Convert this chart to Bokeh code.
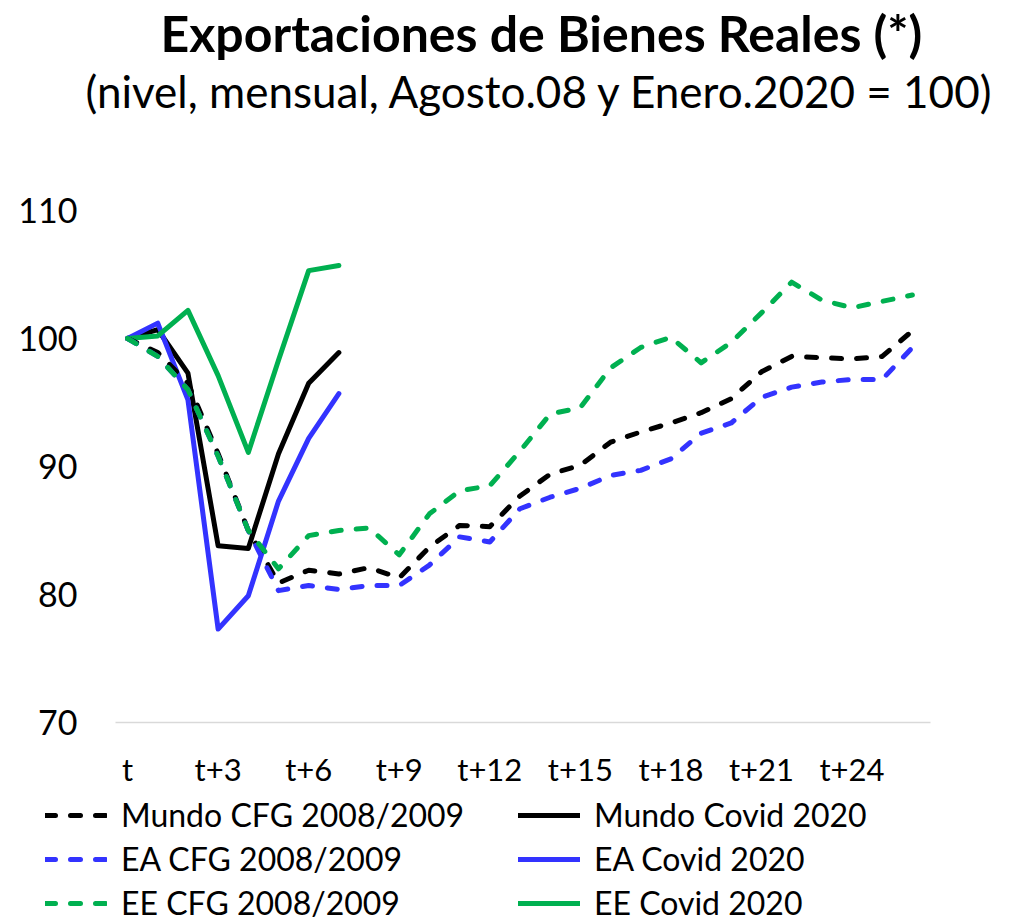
from bokeh.plotting import figure
from bokeh.models import Range1d, FixedTicker, Title, Legend, LegendItem
from bokeh.embed import file_html
from bokeh.resources import INLINE

# ---------------- data ----------------
periods_cfg = [0, 1, 2, 3, 4, 5, 6, 7, 8, 9, 10, 11, 12, 13, 14, 15, 16, 17, 18,
               19, 20, 21, 22, 23, 24, 25, 26]
periods_covid = [0, 1, 2, 3, 4, 5, 6, 7]

tick_positions = [0, 3, 6, 9, 12, 15, 18, 21, 24]
tick_labels = ["t", "t+3", "t+6", "t+9", "t+12", "t+15", "t+18", "t+21", "t+24"]

mundo_cfg = [100.0, 98.9, 96.5, 91.0, 85.0, 80.9, 81.9, 81.6, 82.1, 81.3, 83.7,
             85.4, 85.3, 87.7, 89.4, 90.1, 91.9, 92.7, 93.4, 94.2, 95.3, 97.4,
             98.6, 98.5, 98.4, 98.6, 100.6]
ea_cfg = [100.0, 98.6, 96.0, 90.8, 85.0, 80.3, 80.7, 80.4, 80.7, 80.7, 82.3,
          84.5, 84.1, 86.7, 87.6, 88.3, 89.3, 89.7, 90.6, 92.6, 93.4, 95.4,
          96.2, 96.6, 96.8, 96.8, 99.3]
ee_cfg = [100.0, 98.6, 96.0, 90.8, 85.0, 82.0, 84.6, 85.0, 85.2, 83.1, 86.3,
          88.1, 88.5, 91.2, 94.1, 94.6, 97.7, 99.3, 100.1, 98.1, 99.7, 102.0,
          104.4, 103.0, 102.4, 102.9, 103.4]

mundo_covid = [100.0, 100.7, 97.3, 83.8, 83.6, 91.0, 96.5, 98.9]
ea_covid = [100.0, 101.2, 95.2, 77.3, 79.9, 87.3, 92.2, 95.7]
ee_covid = [100.0, 100.2, 102.2, 97.1, 91.1, 98.3, 105.3, 105.7]

series_names = ["Mundo CFG 2008/2009", "Mundo Covid 2020",
                "EA CFG 2008/2009", "EA Covid 2020",
                "EE CFG 2008/2009", "EE Covid 2020"]

# ---------------- styling ----------------
FONT = "Lato"
BLACK = "#000000"
BLUE = "#3333FF"
GREEN = "#00B050"
LW = 5
DASH = "10 15"
W = 1025

p = figure(width=W, height=790, output_backend="svg",
           toolbar_location=None,
           x_range=Range1d(-0.4, 26.6), y_range=Range1d(70, 110),
           min_border_left=115, min_border_right=W - 930, min_border_top=210,
           min_border_bottom=68, title=None)

p.outline_line_color = None
p.xgrid.visible = False
p.ygrid.visible = False
p.background_fill_color = "white"
p.border_fill_color = "white"

# titles: spacer (closest to plot), subtitle, main title
spacer = Title(text=" ", text_font_size="1px", standoff=91)
sub = Title(text="(nivel, mensual, Agosto.08 y Enero.2020 = 100)", align="left",
            text_font=FONT, text_font_size="44px", text_font_style="normal",
            text_color="#000000", standoff=0, offset=-30)
main = Title(text="Exportaciones de Bienes Reales (*)", align="left",
             text_font=FONT, text_font_size="50px", text_font_style="bold",
             text_color="#000000", standoff=0, offset=45)
p.add_layout(spacer, "above")
p.add_layout(sub, "above")
p.add_layout(main, "above")

# axes
p.yaxis.ticker = FixedTicker(ticks=[70, 80, 90, 100, 110])
p.yaxis.axis_line_color = None
p.yaxis.major_tick_line_color = None
p.yaxis.minor_tick_line_color = None
p.yaxis.major_label_standoff = 32
p.yaxis.major_label_text_font = FONT
p.yaxis.major_label_text_font_size = "34px"
p.yaxis.major_label_text_color = "#000000"

p.xaxis.ticker = FixedTicker(ticks=tick_positions)
p.xaxis.major_label_overrides = {pos: lab for pos, lab in zip(tick_positions, tick_labels)}
p.xaxis.axis_line_color = "#D9D9D9"
p.xaxis.axis_line_width = 1.5
p.xaxis.major_tick_line_color = None
p.xaxis.minor_tick_line_color = None
p.xaxis.major_label_standoff = 21
p.xaxis.major_label_text_font = FONT
p.xaxis.major_label_text_font_size = "31px"
p.xaxis.major_label_text_color = "#000000"

# lines
p.line(periods_covid, mundo_covid, line_color=BLACK, line_width=LW,
       line_join="round", line_cap="round")
p.line(periods_covid, ea_covid, line_color=BLUE, line_width=LW,
       line_join="round", line_cap="round")
p.line(periods_covid, ee_covid, line_color=GREEN, line_width=LW,
       line_join="round", line_cap="round")
p.line(periods_cfg, mundo_cfg, line_color=BLACK, line_width=LW,
       line_dash=DASH, line_join="round", line_cap="round")
p.line(periods_cfg, ea_cfg, line_color=BLUE, line_width=LW,
       line_dash=DASH, line_join="round", line_cap="round")
p.line(periods_cfg, ee_cfg, line_color=GREEN, line_width=LW,
       line_dash=DASH, line_join="round", line_cap="round")

# ---------------- legend (separate strip below the chart) ----------------
pl = figure(width=W, height=133, output_backend="svg", toolbar_location=None,
            x_range=Range1d(0, 1), y_range=Range1d(0, 1),
            x_axis_location=None, y_axis_location=None,
            min_border=0, min_border_left=0, min_border_right=0,
            min_border_top=0, min_border_bottom=0, title=None)
pl.grid.visible = False
pl.outline_line_color = None
pl.background_fill_color = "white"
pl.border_fill_color = "white"

# legend key proxies: placed outside the visible range of this strip
proxy_x = [2, 3]
proxy_y = [2, 2]
styles = [(BLACK, DASH), (BLACK, "solid"), (BLUE, DASH), (BLUE, "solid"),
          (GREEN, DASH), (GREEN, "solid")]
items = []
for name, (col, dash) in zip(series_names, styles):
    r = pl.line(proxy_x, proxy_y, line_color=col, line_width=LW, line_dash=dash,
                line_cap="round")
    items.append(LegendItem(label=name, renderers=[r]))

legend = Legend(items=items, orientation="horizontal", ncols=2,
                location=(45, 1),
                border_line_color=None, background_fill_alpha=0,
                label_text_font=FONT, label_text_font_size="32px",
                label_text_color="#000000",
                glyph_width=62, glyph_height=38, label_height=38,
                label_standoff=14, label_width=392, spacing=5,
                padding=0, margin=0)
pl.add_layout(legend, "center")

# two independent roots stacked on the page (no frame alignment between them)
open("out.html", "w").write(file_html([p, pl], INLINE))
